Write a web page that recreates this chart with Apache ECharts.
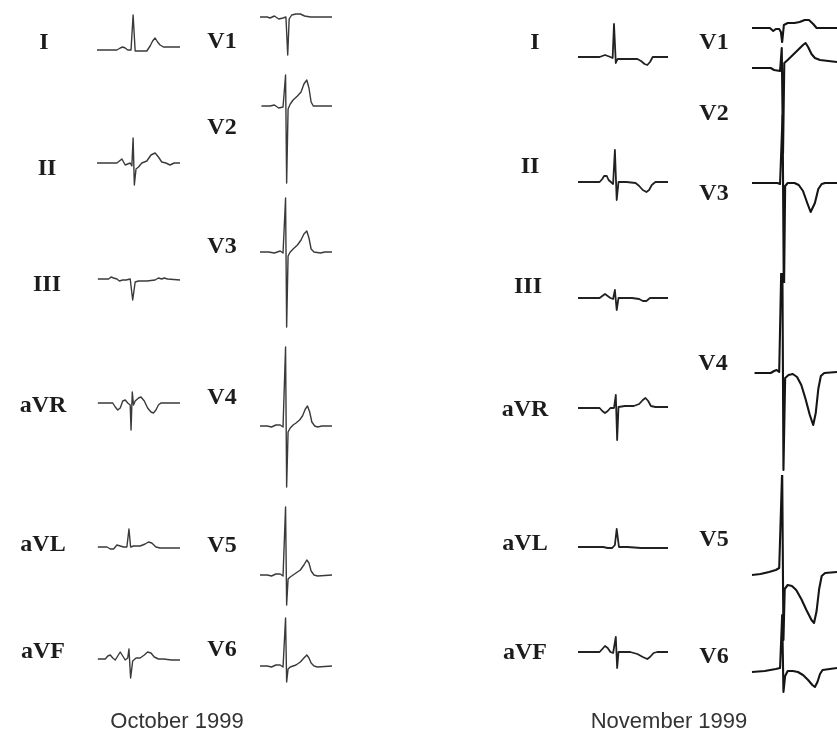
<!DOCTYPE html>
<html>
<head>
<meta charset="utf-8">
<script src="https://cdn.jsdelivr.net/npm/echarts@6/dist/echarts.min.js"></script>
<style>
html, body { margin: 0; padding: 0; background: #fff; }
#main { width: 837px; height: 736px; }
</style>
</head>
<body>
<div id="main"></div>
<script>
// lead names and captions
const limbLeads = ['I', 'II', 'III', 'aVR', 'aVL', 'aVF'];
const chestLeads = ['V1', 'V2', 'V3', 'V4', 'V5', 'V6'];
const panelTitles = ['October 1999', 'November 1999'];

// one beat per lead: [time in % of strip, amplitude]
// October 1999 - limb leads
const octI   = [[0,0],[24,0],[28,2],[31,3],[34,2],[37,0],[41,0],[42,-1],[43.5,35],[46,-1],[48,0],[60,-1],[64,4],[67,9],[70,12],[73,8],[76,5],[80,3],[100,3]];
const octII  = [[0,0],[24,0],[27,2],[30,4],[32,2],[34,-2],[37,-1],[40,0],[42,-3],[43.5,25],[45,-22],[47,-6],[50,-4],[54,0],[60,2],[65,8],[70,10],[74,6],[78,1],[83,0],[88,-2],[93,0],[100,0]];
const octIII = [[1,0],[14,0],[17,2],[20,1],[24,0],[27,-2],[31,-1],[35,-1],[40,0],[41.5,-2],[43,-21],[46,-3],[50,-2],[60,-2],[70,-1],[74,1],[78,0],[81,1],[85,0],[100,-1]];
const octAVR = [[1,0],[19,0],[22,-4],[25,-7],[28,-5],[31,2],[34,3],[37,0],[40,-2],[41,-27],[42.5,11],[44,-2],[46,2],[50,5],[53,6],[57,2],[61,-5],[65,-9],[68,-10],[71,-7],[74,-2],[77,0],[100,0]];
const octAVL = [[1,0],[12,0],[16,-2],[20,-2],[24,2],[28,1],[32,0],[36,0],[37,-1],[38.5,18],[40.5,0],[44,1],[52,1],[58,3],[62,5],[66,4],[71,0],[76,-1],[100,-1]];
const octAVF = [[1,0],[10,0],[13,3],[16,4],[19,1],[22,-1],[25,3],[28,7],[31,3],[34,-1],[37,1],[38.5,10],[40.5,-19],[43,-2],[47,1],[52,1],[57,4],[61,7],[65,6],[69,2],[74,0],[80,0],[90,-1],[100,-1]];

// October 1999 - chest leads
const octV1 = [[0,0],[10,0],[14,-1],[20,1],[26,-2],[32,-1],[36,0],[37,-2],[38.5,-38],[40.5,-2],[44,2],[50,3],[56,3],[62,1],[70,0],[100,0]];
const octV2 = [[2,0],[14,0],[20,1],[26,-2],[32,-1],[34,0],[35.5,31],[37,-77],[39,-3],[42,2],[46,6],[52,10],[57,14],[61,22],[65,26],[68,18],[71,4],[74,0],[100,0]];
const octV3 = [[0,0],[12,0],[20,-1],[28,1],[32,-1],[34,0],[35.5,54],[37,-75],[39,-4],[42,0],[46,3],[52,7],[57,12],[61,18],[65,21],[68,14],[71,3],[75,0],[84,-1],[90,0],[100,0]];
const octV4 = [[0,0],[10,0],[16,-1],[22,1],[28,1],[32,-1],[34,0],[35.5,79],[37,-61],[39,-6],[42,-2],[46,1],[50,3],[55,6],[59,10],[63,17],[66,20],[69,14],[72,4],[76,0],[80,-1],[86,0],[100,0]];
const octV5 = [[0,0],[10,0],[16,-1],[22,1],[28,1],[32,-1],[34,0],[35.5,68],[37,-30],[39,-4],[42,-2],[46,0],[50,2],[56,5],[61,10],[65,15],[68,12],[71,4],[75,0],[80,-1],[100,0]];
const octV6 = [[0,0],[10,0],[16,-1],[22,1],[28,1],[32,-1],[34,0],[35.5,48],[37,-16],[39,-3],[42,-1],[46,0],[50,1],[56,4],[61,8],[65,11],[68,8],[71,3],[75,0],[80,-1],[100,0]];

// November 1999 - limb leads
const novI   = [[0,0],[24,0],[27,1],[30,2],[33,1],[36,0],[38.5,-1],[40,33],[42,-6],[44,-2],[55,-2],[66,-2],[70,-4],[74,-7],[77,-8],[80,-5],[83,0],[100,0]];
const novII  = [[0,0],[24,0],[27,3],[29,6],[32,6],[34,2],[36,0],[39,-2],[41,32],[43,-18],[45,0],[54,0],[64,-1],[68,-4],[72,-8],[76,-10],[79,-8],[82,-3],[86,0],[100,0]];
const novIII = [[0,0],[24,0],[27,2],[30,4],[33,2],[36,0],[39,-1],[41,8],[43,-12],[45,0],[60,0],[68,-1],[72,-3],[76,-3],[80,0],[100,0]];
const novAVR = [[0,0],[24,0],[27,-3],[30,-5],[33,-3],[36,0],[40,0],[42,13],[43.5,-32],[45,1],[52,2],[62,2],[68,4],[72,8],[75,10],[78,7],[81,2],[86,1],[100,1]];
const novAVL = [[0,0],[28,0],[33,-1],[38,-1],[41,2],[43,18],[45.5,0],[55,0],[70,-1],[85,-1],[100,-1]];
const novAVF = [[0,0],[24,0],[27,3],[30,6],[33,4],[36,0],[39,-1],[42,15],[43.5,-16],[45,0],[58,0],[66,-2],[72,-5],[77,-7],[80,-5],[84,-1],[88,0],[100,0]];

// November 1999 - chest leads
const novV1 = [[0,0],[21,0],[23,-2],[25,-3],[28,-1],[32,-1],[34,-4],[35.5,-14],[37.5,3],[42,5],[50,5],[56,6],[62,8],[67,8],[72,4],[76,0],[100,0]];
const novV2 = [[0,0],[22,0],[26,-2],[33,-3],[35,20],[36.5,-85],[38,5],[42,8],[48,13],[54,18],[60,23],[63,25],[66,21],[70,14],[74,10],[80,8],[100,6]];
const novV3 = [[0,0],[30,0],[33,-1],[35,-3],[36,68],[37.5,-120],[39,-3],[42,0],[50,0],[55,-2],[60,-8],[65,-20],[69,-29],[71,-30],[74,-20],[78,-6],[82,-1],[86,0],[100,0]];
const novV4 = [[3,0],[22,0],[26,2],[29,3],[32,1],[34,2],[35.5,150],[37,-97],[39,-5],[43,-2],[48,-1],[53,-4],[58,-12],[63,-26],[68,-42],[72,-52],[75,-40],[78,-16],[81,-3],[85,0],[100,1]];
const novV5 = [[0,0],[10,1],[20,3],[28,5],[32,7],[34,6],[35.5,105],[37,-65],[38.5,-14],[42,-10],[47,-11],[52,-15],[58,-24],[64,-35],[70,-45],[73,-48],[76,-36],[79,-14],[82,-1],[86,2],[100,3]];
const novV6 = [[0,0],[15,1],[28,3],[33,4],[35.5,57],[37,-20],[39,-4],[42,1],[48,1],[54,0],[60,-3],[66,-8],[71,-13],[74,-15],[77,-10],[80,-2],[83,2],[100,4]];

// strip placement (pixels)
const columns = [
  { leads: limbLeads,  beats: [octI, octII, octIII, octAVR, octAVL, octAVF], left: 97,  width: 83,
    base: [50, 163, 279, 403, 547, 659], labelX: [44, 47, 47, 43, 43, 43], labelY: [43, 169, 285, 406, 545, 652], color: '#3a3a3a', lw: 1.4 },
  { leads: chestLeads, beats: [octV1, octV2, octV3, octV4, octV5, octV6], left: 260, width: 72,
    base: [17, 106, 252, 426, 575, 666], labelX: [222, 222, 222, 222, 222, 222], labelY: [42, 128, 247, 398, 546, 650], color: '#3a3a3a', lw: 1.4 },
  { leads: limbLeads,  beats: [novI, novII, novIII, novAVR, novAVL, novAVF], left: 578, width: 90,
    base: [57, 182, 298, 408, 547, 652], labelX: [535, 530, 528, 525, 525, 525], labelY: [43, 167, 287, 410, 544, 653], color: '#222', lw: 1.8 },
  { leads: chestLeads, beats: [novV1, novV2, novV3, novV4, novV5, novV6], left: 752, width: 85,
    base: [28, 68, 183, 373, 575, 672], labelX: [714, 714, 714, 713, 714, 714], labelY: [43, 114, 194, 364, 540, 657], color: '#151515', lw: 2.1 }
];

// small grids: 1 amplitude unit = 1 px, marks beyond the range are drawn unclipped
const half = 10;

let grids = [], xAxes = [], yAxes = [], series = [], texts = [];

columns.forEach(col => {
  col.beats.forEach((beat, i) => {
    let idx = grids.length;
    grids.push({ left: col.left, width: col.width, top: col.base[i] - half, height: 2 * half, outerBoundsMode: 'none' });
    xAxes.push({ type: 'value', gridIndex: idx, min: 0, max: 100, show: false });
    yAxes.push({ type: 'value', gridIndex: idx, min: -half, max: half, show: false });
    series.push({
      name: col.leads[i],
      type: 'line',
      xAxisIndex: idx,
      yAxisIndex: idx,
      data: beat,
      showSymbol: false,
      clip: false,
      silent: true,
      lineStyle: { color: col.color, width: col.lw, join: 'round' }
    });
    texts.push({
      type: 'text',
      x: col.labelX[i],
      y: col.labelY[i],
      style: {
        text: col.leads[i],
        font: 'bold 24px "Liberation Serif", "Times New Roman", serif',
        fill: '#1c1c1c',
        textAlign: 'center',
        textVerticalAlign: 'middle'
      }
    });
  });
});

// captions under each panel
[177, 669].forEach((cx, i) => {
  texts.push({
    type: 'text',
    x: cx,
    y: 722,
    style: {
      text: panelTitles[i],
      font: '22px "Liberation Sans", Arial, sans-serif',
      fill: '#333',
      textAlign: 'center',
      textVerticalAlign: 'middle'
    }
  });
});

let chart = echarts.init(document.getElementById('main'));
chart.setOption({
  backgroundColor: '#fff',
  animation: false,
  grid: grids,
  xAxis: xAxes,
  yAxis: yAxes,
  series: series,
  graphic: texts
});
</script>
</body>
</html>
